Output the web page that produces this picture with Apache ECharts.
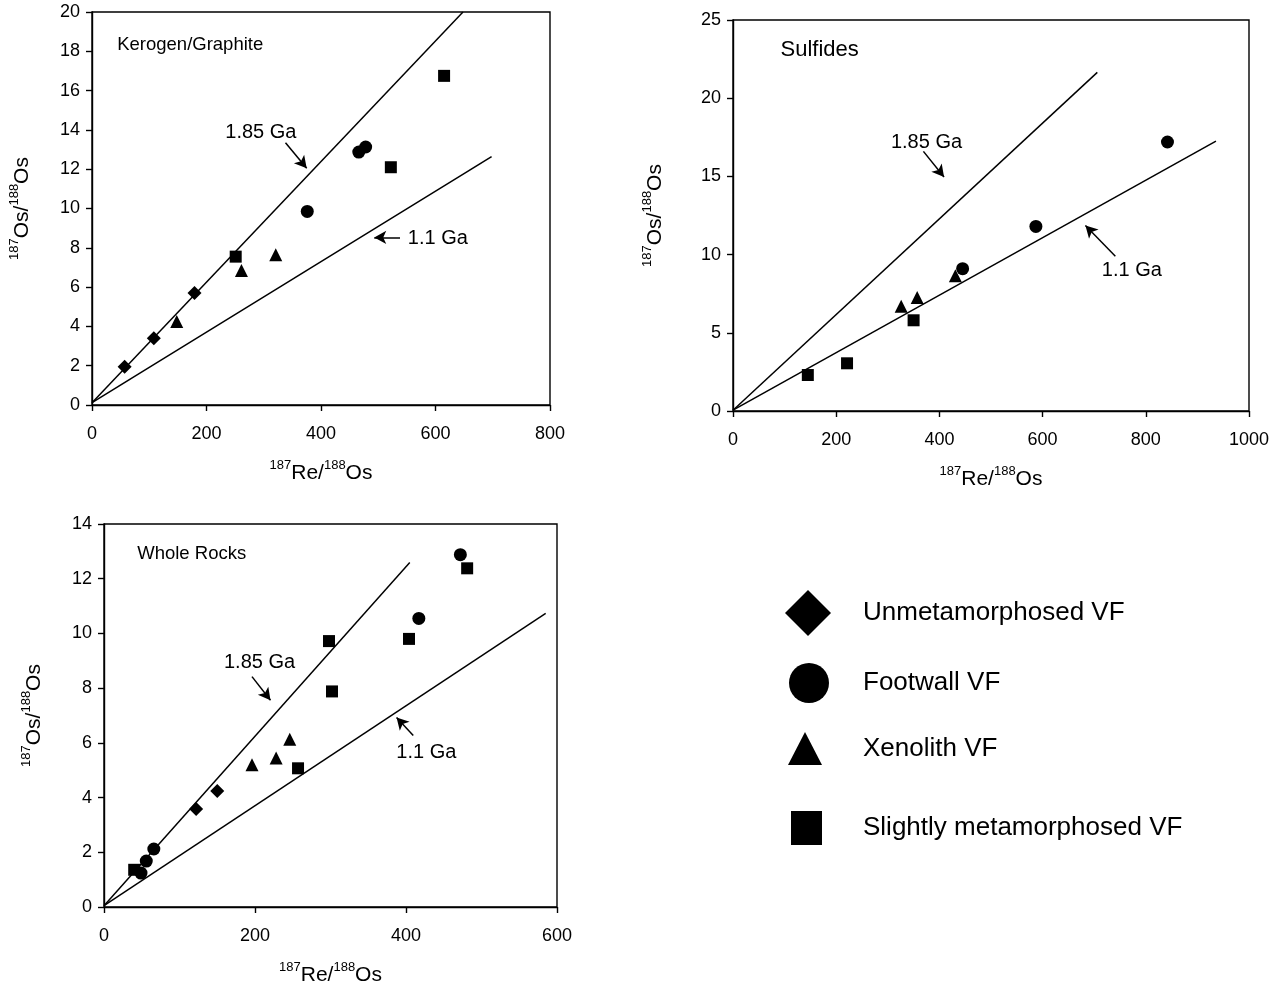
<!DOCTYPE html>
<html style="height: 100%">
<head>
    <meta charset="utf-8">
    <title>Re-Os isochron diagrams</title>
    <script src="https://cdn.jsdelivr.net/npm/echarts@6/dist/echarts.min.js"></script>
</head>
<body style="height: 100%; margin: 0; background: #fff">
    <div id="main" style="width: 1279px; height: 987px"></div>
    <script>
        // ---- data ----
        var groupNames = ['Unmetamorphosed VF', 'Footwall VF', 'Xenolith VF', 'Slightly metamorphosed VF'];
        var groupSymbols = ['diamond', 'circle', 'triangle', 'rect'];

        // Kerogen / Graphite
        var kerogenDiamond = [[57, 1.95], [108, 3.4], [179, 5.7]];
        var kerogenCircle = [[376, 9.85], [466, 12.87], [478, 13.13]];
        var kerogenTriangle = [[148, 4.25], [261, 6.85], [321, 7.65]];
        var kerogenSquare = [[251, 7.55], [522, 12.1], [615, 16.75]];
        var kerogenIso185 = [[0, 0.12], [648, 20]];
        var kerogenIso11 = [[0, 0.12], [698, 12.64]];

        // Sulfides
        var sulfideDiamond = [];
        var sulfideCircle = [[445, 9.1], [587, 11.8], [842, 17.2]];
        var sulfideTriangle = [[326, 6.7], [357, 7.25], [431, 8.65]];
        var sulfideSquare = [[145, 2.3], [221, 3.05], [350, 5.8]];
        var sulfideIso185 = [[0, 0.05], [706, 21.65]];
        var sulfideIso11 = [[0, 0.05], [936, 17.26]];

        // Whole rocks
        var wholeDiamond = [[122, 3.58], [150, 4.24]];
        var wholeCircle = [[49, 1.24], [56, 1.68], [66, 2.12], [417, 10.55], [472, 12.88]];
        var wholeTriangle = [[196, 5.2], [228, 5.45], [246, 6.13]];
        var wholeSquare = [[40, 1.36], [298, 9.72], [302, 7.88], [257, 5.07], [404, 9.8], [481, 12.38]];
        var wholeIso185 = [[0, 0.05], [405, 12.59]];
        var wholeIso11 = [[0, 0.05], [585, 10.73]];

        // axis ranges
        var xMax = [800, 1000, 600];
        var xStep = [200, 200, 200];
        var yMax = [20, 25, 14];
        var yStep = [2, 5, 2];

        // annotations: panel title, age labels and arrows (data coordinates)
        var panelTitles = ['Kerogen/Graphite', 'Sulfides', 'Whole Rocks'];
        var titleSize = [18.5, 22, 18.5];
        var titlePos = [[44, 18.3], [92, 23.08], [44, 12.9]];
        var label185Pos = [[295, 13.86], [375, 17.2], [206, 8.93]];
        var label11Pos = [[604, 8.46], [773, 9.0], [427, 5.66]];
        var arrow185 = [[[338, 13.35], [375, 12.05]], [[369, 16.6], [409, 14.96]], [[196, 8.42], [220.5, 7.56]]];
        var arrow11 = [[[538, 8.53], [493, 8.53]], [[741, 9.9], [683, 11.86]], [[409.6, 6.27], [387.5, 6.93]]];

        var panels = [
            { pts: [kerogenDiamond, kerogenCircle, kerogenTriangle, kerogenSquare], iso185: kerogenIso185, iso11: kerogenIso11 },
            { pts: [sulfideDiamond, sulfideCircle, sulfideTriangle, sulfideSquare], iso185: sulfideIso185, iso11: sulfideIso11 },
            { pts: [wholeDiamond, wholeCircle, wholeTriangle, wholeSquare], iso185: wholeIso185, iso11: wholeIso11 }
        ];

        var grids = [
            { left: 92, top: 12, width: 458, height: 393 },
            { left: 733, top: 20, width: 516, height: 391 },
            { left: 104, top: 524, width: 453, height: 385 }
        ];
        var yNameGap = [59, 67, 59];

        var ink = '#000';
        var font = 'Liberation Sans, Arial, Helvetica, sans-serif';
        var markerSize = [14, 13, 13, 12];

        var nameRich = {
            sup: { fontSize: 13, fontFamily: font, color: ink, verticalAlign: 'top', lineHeight: 25 },
            b: { fontSize: 21, fontFamily: font, color: ink, verticalAlign: 'bottom', lineHeight: 25 }
        };

        var xAxes = [], yAxes = [], series = [];

        grids.forEach(function (g, i) {
            g.show = true;
            g.borderColor = ink;
            g.borderWidth = 1.4;
            g.backgroundColor = 'transparent';

            xAxes.push({
                type: 'value', gridIndex: i, min: 0, max: xMax[i], interval: xStep[i],
                name: '{sup|187}{b|Re/}{sup|188}{b|Os}',
                nameLocation: 'middle', nameGap: 54,
                nameTextStyle: { rich: nameRich },
                axisLine: { lineStyle: { color: ink, width: 1.4 } },
                axisTick: { inside: false, length: 6, lineStyle: { color: ink, width: 1.4 } },
                axisLabel: { color: ink, fontSize: 18, fontFamily: font, margin: 20,
                    formatter: function (v) { return String(v); } },
                splitLine: { show: false }
            });
            yAxes.push({
                type: 'value', gridIndex: i, min: 0, max: yMax[i], interval: yStep[i],
                name: '{sup|187}{b|Os/}{sup|188}{b|Os}',
                nameLocation: 'middle', nameGap: yNameGap[i], nameRotate: 90,
                nameTextStyle: { rich: nameRich },
                axisLine: { lineStyle: { color: ink, width: 1.4 } },
                axisTick: { inside: false, length: 6, lineStyle: { color: ink, width: 1.4 } },
                axisLabel: { color: ink, fontSize: 18, fontFamily: font, margin: 12 },
                splitLine: { show: false }
            });

            // isochron lines with their arrows
            var p = panels[i];
            [[p.iso185, arrow185[i]], [p.iso11, arrow11[i]]].forEach(function (pair) {
                series.push({
                    type: 'line', xAxisIndex: i, yAxisIndex: i, data: pair[0],
                    showSymbol: false, silent: true, animation: false,
                    lineStyle: { color: ink, width: 1.5 },
                    markLine: {
                        silent: true, animation: false,
                        symbol: ['none', 'arrow'], symbolSize: [10, 12],
                        lineStyle: { color: ink, width: 1.5, type: 'solid', opacity: 1 },
                        itemStyle: { color: ink },
                        label: { show: false },
                        data: [[{ coord: pair[1][0] }, { coord: pair[1][1] }]]
                    }
                });
            });

            // data points
            p.pts.forEach(function (pts, k) {
                series.push({
                    name: groupNames[k], type: 'scatter', xAxisIndex: i, yAxisIndex: i,
                    data: pts, symbol: groupSymbols[k], symbolSize: markerSize[k],
                    itemStyle: { color: ink, opacity: 1 }, animation: false, z: 5
                });
            });

            // text annotations
            var lab = function (text, size, pos) {
                return { show: true, formatter: text, position: pos, distance: 0,
                    fontSize: size, color: ink, fontFamily: font };
            };
            series.push({
                type: 'scatter', xAxisIndex: i, yAxisIndex: i, symbolSize: 0, silent: true, animation: false,
                itemStyle: { opacity: 1 },
                data: [
                    { value: titlePos[i], label: lab(panelTitles[i], titleSize[i], 'right') },
                    { value: label185Pos[i], label: lab('1.85 Ga', 20, 'inside') },
                    { value: label11Pos[i], label: lab('1.1 Ga', 20, 'inside') }
                ]
            });
        });

        // separate legend blocks, one per group, to match the figure layout
        var legendBoxes = [
            { left: 785, top: 590, w: 46, h: 46, icon: 'diamond', pad: 27 },
            { left: 789, top: 663, w: 40, h: 40, icon: 'circle', pad: 29 },
            { left: 788, top: 732, w: 34, h: 33, icon: 'triangle', pad: 36 },
            { left: 791, top: 811, w: 31, h: 34, icon: 'rect', pad: 36 }
        ];
        var legends = legendBoxes.map(function (b, k) {
            return {
                data: [{ name: groupNames[k], icon: b.icon }],
                left: b.left, top: b.top, padding: 0,
                itemWidth: b.w, itemHeight: b.h,
                selectedMode: false,
                itemStyle: { color: ink, opacity: 1 },
                textStyle: { color: ink, fontSize: 26, fontFamily: font, padding: [0, 0, 0, b.pad] }
            };
        });

        var chart = echarts.init(document.getElementById('main'));
        chart.setOption({
            backgroundColor: '#fff',
            animation: false,
            textStyle: { fontFamily: font },
            grid: grids,
            xAxis: xAxes,
            yAxis: yAxes,
            legend: legends,
            series: series
        });
    </script>
</body>
</html>
